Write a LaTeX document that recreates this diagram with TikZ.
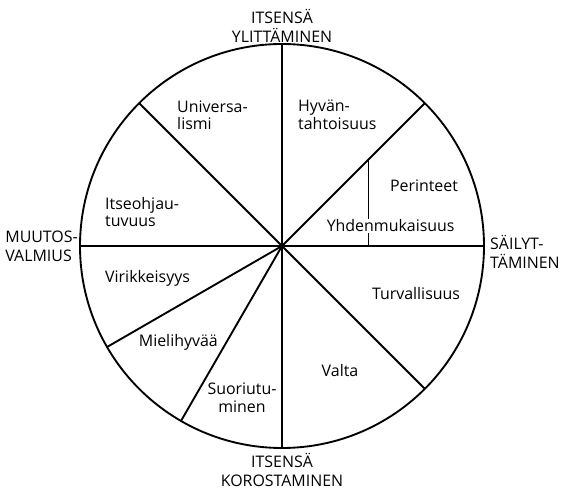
\documentclass[tikz,border=0pt]{standalone}
\usepackage{fontspec}
\setmainfont{Open Sans}

\begin{document}
\begin{tikzpicture}[
  font=\fontsize{13.6pt}{14.9pt}\selectfont,
  every node/.style={inner sep=0pt},
  seglabel/.style={align=left},
  polelabel/.style={align=center, font=\fontsize{13.6pt}{16.2pt}\selectfont},
  spoke/.style={line width=1.6pt},
  divider/.style={line width=0.8pt},
]
\def\R{6.06}
\useasboundingbox (-8.46,-7.32) rectangle (8.40,7.38);

% --- Circle and spokes ---
\coordinate (c) at (0,0);
\foreach \a in {0,45,90,135,180,210,240,270,315}
  \coordinate (r\a) at (\a:\R);

\draw[spoke] (c) circle (\R);
\draw[spoke] (r90) -- (r270);
\draw[spoke] (r180) -- (r0);
\foreach \a in {45,135,210,240,315}
  \draw[spoke] (c) -- (r\a);

% --- Partial divider between Perinteet and Yhdenmukaisuus ---
\coordinate (d1) at (2.58,2.58);
\coordinate (d2) at (2.58,0);
\draw[divider] (d1) -- (d2);

% --- Sector labels ---
\node[seglabel, anchor=west] (univ) at (-3.15,3.93) {Universa-\\lismi};
\node[seglabel, anchor=west] (hyv) at (0.48,3.93) {Hyvän-\\tahtoisuus};
\node[anchor=base] (per) at (4.26,1.62) {Perinteet};
\node[anchor=base, fill=white, inner sep=1pt] (yhd) at (3.26,0.42) {Yhdenmukaisuus};
\node[seglabel, anchor=west] (itse) at (-5.31,1.02) {Itseohjau-\\tuvuus};
\node[anchor=base west] (virik) at (-5.31,-1.11) {Virikkeisyys};
\node[anchor=base] (turva) at (4.02,-1.62) {Turvallisuus};
\node[anchor=base] (mieli) at (-3.11,-3.03) {Mielihyvää};
\node[anchor=base] (valta) at (1.74,-3.93) {Valta};
\node[align=center] (suor) at (-1.20,-4.55) {Suoriutu-\\minen};

% --- Pole labels ---
\node[polelabel] (top) at (0,6.60) {ITSENSÄ\\YLITTÄMINEN};
\node[polelabel] (bottom) at (0,-6.72) {ITSENSÄ\\KOROSTAMINEN};
\node[polelabel, align=left, anchor=east] (left) at (-6.12,-0.02) {MUUTOS-\\VALMIUS};
\node[polelabel, align=left, anchor=west] (right) at (6.24,-0.17) {SÄILYT-\\TÄMINEN};

\end{tikzpicture}
\end{document}
